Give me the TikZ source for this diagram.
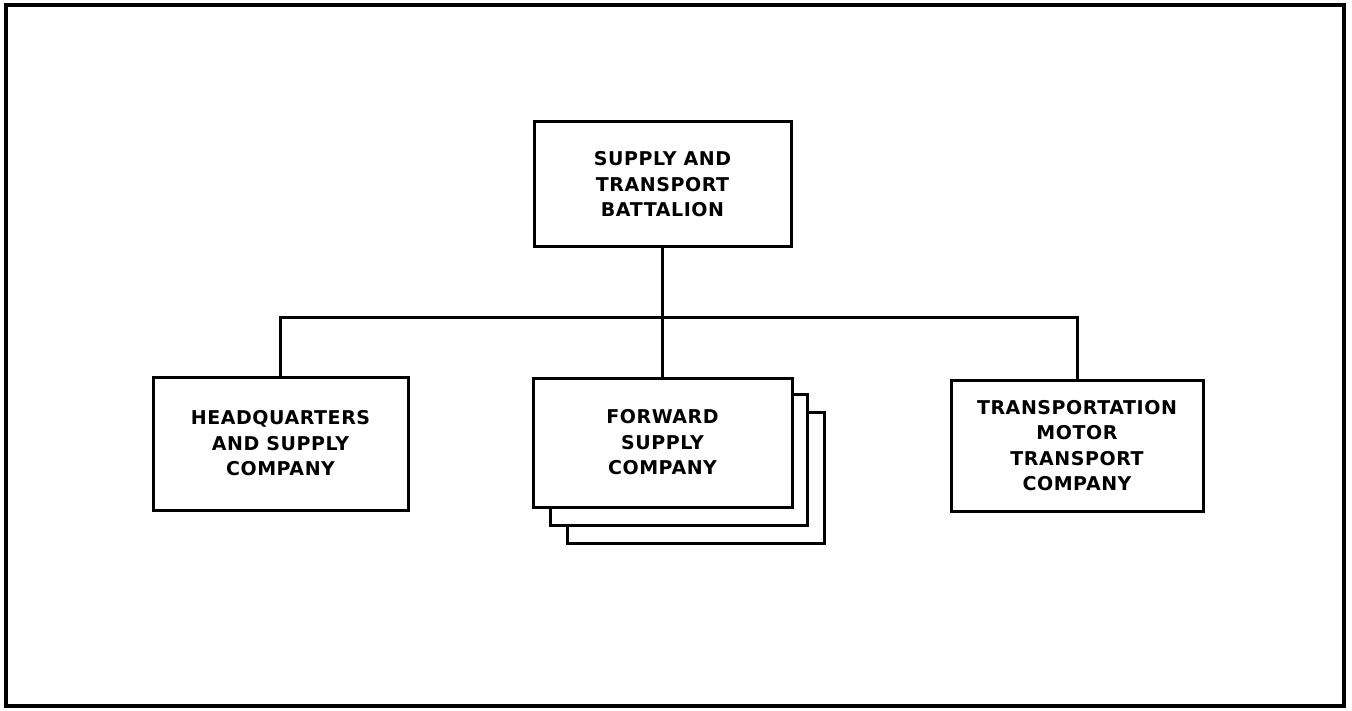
\documentclass[tikz,border=0pt]{standalone}
\usepackage{fontspec}
\newfontfamily\lblfont{DejaVu Sans}[LetterSpace=3]
\begin{document}
\begin{tikzpicture}[x=1pt,y=-1pt,
  unitbox/.style={draw, fill=white, line width=3pt, rectangle, align=center,
    inner sep=0pt, font=\lblfont\bfseries\fontsize{19}{25.5}\selectfont},
  link/.style={line width=3pt}]
\useasboundingbox (0,0) rectangle (1352,711);
\draw[line width=4.5pt] (6,5) rectangle (1344,706);
% top
\node[unitbox, minimum width=257pt, minimum height=125pt] (top) at (662.5,184.5)
  {SUPPLY AND\\TRANSPORT\\BATTALION};
% left
\node[unitbox, minimum width=255pt, minimum height=133pt] (hq) at (280.5,443.5)
  {HEADQUARTERS\\AND SUPPLY\\COMPANY};
% forward stack
\node[unitbox, minimum width=257pt, minimum height=131pt] (fb3) at (695.5,477.5) {};
\node[unitbox, minimum width=257pt, minimum height=131pt] (fb2) at (679,460) {};
\node[unitbox, minimum width=259pt, minimum height=129pt] (fb) at (662.5,442.5)
  {FORWARD\\SUPPLY\\COMPANY};
% right
\node[unitbox, minimum width=252pt, minimum height=131pt] (tm) at (1077,445.5)
  {TRANSPORTATION\\MOTOR\\TRANSPORT\\COMPANY};
\coordinate (bus) at (662.5,318);
\draw[link] (top.south) -- (fb.north);
\draw[link] (hq.north) |- (bus) -| (tm.north);
\end{tikzpicture}
\end{document}
